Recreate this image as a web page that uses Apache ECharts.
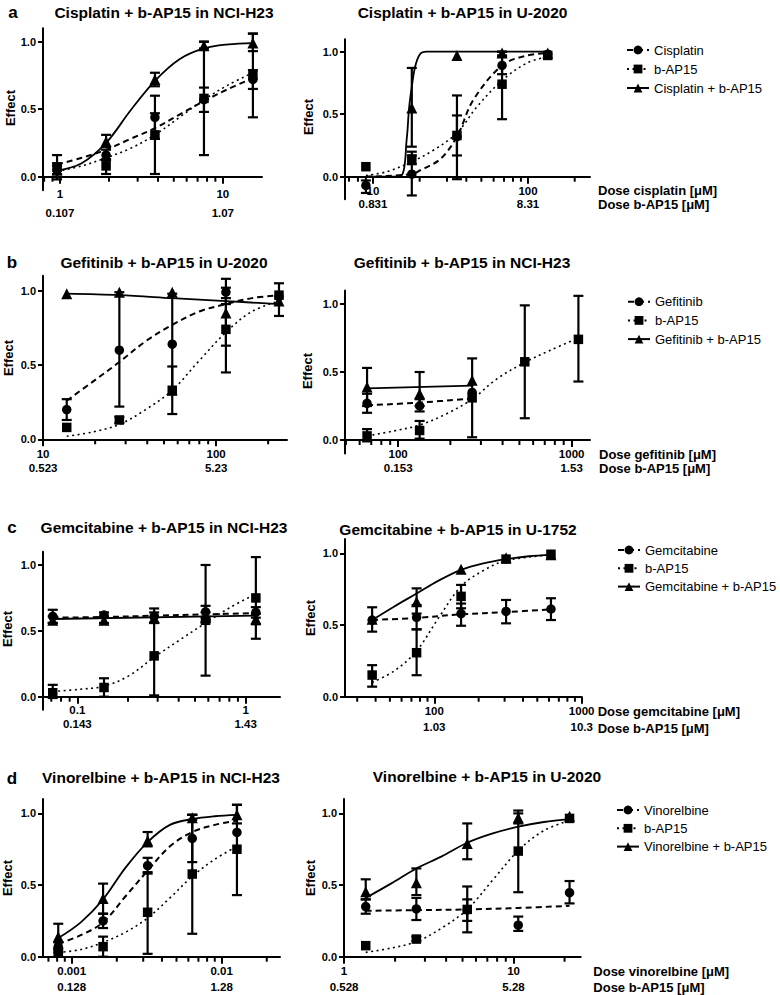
<!DOCTYPE html>
<html><head><meta charset="utf-8">
<script src="https://cdn.jsdelivr.net/npm/echarts@6/dist/echarts.min.js"></script>
<style>html,body{margin:0;padding:0;background:#fff}#chart{width:780px;height:995px}</style>
</head><body><div id="chart"></div>
<script>
// ================= DATA =================
const yTickValues = [0, 0.5, 1];
const yTickLabels = ['0.0', '0.5', '1.0'];

// a (left): Cisplatin + b-AP15 in NCI-H23
const aL_dose = [0.96, 1.92, 3.83, 7.66, 15.3];
const aL_drug = [0.05, 0.16, 0.44, 0.57, 0.72];
const aL_drugErr = [[0.00, 0.10], [0.12, 0.20], [0.28, 0.60], [0.48, 0.66], [0.65, 0.79]];
const aL_bap = [0.07, 0.08, 0.31, 0.58, 0.75];
const aL_bapErr = [[-0.02, 0.16], [0.02, 0.13], [0.02, 0.47], [0.16, 1.00], [0.44, 1.06]];
const aL_combo = [0.05, 0.26, 0.72, 0.97, 0.99];
const aL_comboErr = [[0.02, 0.08], [0.22, 0.31], [0.67, 0.77], [0.95, 1.00], [0.93, 1.06]];
const aL_drugCurve = [[0.96,0.09],[1.36,0.14],[1.92,0.20],[2.71,0.28],[3.83,0.36],[5.42,0.46],[7.66,0.56],[10.8,0.65],[15.3,0.73]];
const aL_bapCurve = [[0.96,0.04],[1.36,0.08],[1.92,0.14],[2.71,0.21],[3.83,0.31],[5.42,0.44],[7.66,0.57],[10.8,0.68],[15.3,0.77]];
const aL_comboCurve = [[0.96,0.045],[1.36,0.10],[1.92,0.25],[2.71,0.49],[3.83,0.71],[5.42,0.87],[7.66,0.95],[10.8,0.98],[15.3,0.99]];
const aL_ticks = [1, 10];
const aL_tickLabels = ['1', '10'];
const aL_tickLabels2 = ['0.107', '1.07'];

// a (right): Cisplatin + b-AP15 in U-2020
const aR_dose = [9.0, 17.8, 34.8, 68, 134];
const aR_drug = [-0.07, 0.02, 0.32, 0.89, 0.98];
const aR_drugErr = [[-0.13, -0.03], [-0.15, 0.20], [0.17, 0.49], [0.82, 0.96], null];
const aR_bap = [0.08, 0.14, 0.33, 0.74, 0.97];
const aR_bapErr = [null, [0.10, 0.17], [-0.02, 0.65], [0.46, 1.00], null];
const aR_combo = [null, 0.55, 0.97, 0.99, 0.99];
const aR_comboErr = [null, [0.24, 0.87], null, [0.97, 1.00], null];
const aR_drugCurve = [[9.0,0.0],[17.8,0.02],[20.1,0.05],[27.1,0.14],[34.8,0.32],[44.2,0.61],[68,0.89],[98.6,0.97],[134,0.99]];
const aR_bapCurve = [[9.0,0.01],[12.3,0.04],[17.8,0.12],[24.4,0.21],[34.8,0.35],[46.9,0.56],[68,0.77],[98.6,0.91],[134,0.96]];
const aR_comboCurve = [[9.0,0.0],[13,0.0],[15.3,0.01],[16.5,0.30],[17.1,0.55],[17.8,0.72],[18.7,0.88],[20.1,0.98],[22.2,1.0],[134,1.0]];
const aR_ticks = [10, 100];
const aR_tickLabels = ['10', '100'];
const aR_tickLabels2 = ['0.831', '8.31'];

// b (left): Gefitinib + b-AP15 in U-2020
const bL_dose = [13.7, 27.6, 55.8, 114, 231];
const bL_drug = [0.20, 0.60, 0.64, 0.99, 0.96];
const bL_drugErr = [[0.13, 0.27], [0.22, 0.99], [0.30, 0.98], [0.91, 1.08], null];
const bL_bap = [0.08, 0.13, 0.33, 0.74, 0.97];
const bL_bapErr = [null, [0.11, 0.15], [0.17, 0.49], [0.45, 1.02], [0.83, 1.05]];
const bL_combo = [0.98, 0.99, 0.99, 0.85, 0.93];
const bL_comboErr = [null, null, null, [0.63, 0.95], null];
const bL_drugCurve = [[13.7,0.26],[19.5,0.39],[27.6,0.52],[39.2,0.66],[55.8,0.77],[80,0.86],[114,0.91],[161,0.95],[231,0.97]];
const bL_bapCurve = [[13.7,0.02],[19.5,0.05],[27.6,0.10],[39.2,0.20],[55.8,0.33],[80,0.53],[114,0.72],[161,0.86],[231,0.93]];
const bL_comboCurve = [[13.7,0.98],[27.6,0.97],[55.8,0.95],[114,0.93],[231,0.91]];
const bL_ticks = [10, 100];
const bL_tickLabels = ['10', '100'];
const bL_tickLabels2 = ['0.523', '5.23'];

// b (right): Gefitinib + b-AP15 in NCI-H23
const bR_dose = [66.2, 133, 267, 537, 1094];
const bR_drug = [0.27, 0.25, 0.35, null, null];
const bR_drugErr = [[0.20, 0.34], [0.21, 0.30], null, null, null];
const bR_bap = [0.03, 0.07, 0.31, 0.575, 0.74];
const bR_bapErr = [[-0.01, 0.08], [0.01, 0.14], [0.02, 0.60], [0.16, 0.99], [0.43, 1.06]];
const bR_combo = [0.39, 0.34, 0.44, null, null];
const bR_comboErr = [[0.25, 0.53], [0.25, 0.50], null, null, null];
const bR_drugCurve = [[66.2,0.255],[133,0.275],[267,0.305]];
const bR_bapCurve = [[66.2,0.03],[93,0.065],[133,0.11],[188,0.19],[267,0.30],[371,0.45],[537,0.57],[753,0.66],[1094,0.75]];
const bR_comboCurve = [[66.2,0.38],[267,0.40]];
const bR_ticks = [100, 1000];
const bR_tickLabels = ['100', '1000'];
const bR_tickLabels2 = ['0.153', '1.53'];

// c (left): Gemcitabine + b-AP15 in NCI-H23
const cL_dose = [0.0714, 0.144, 0.286, 0.578, 1.15];
const cL_drug = [0.61, 0.62, 0.61, 0.645, 0.64];
const cL_drugErr = [[0.56, 0.66], [0.60, 0.64], [0.56, 0.67], [0.60, 0.69], [0.60, 0.68]];
const cL_bap = [0.03, 0.07, 0.31, 0.58, 0.75];
const cL_bapErr = [[-0.01, 0.09], [0.00, 0.14], [0.01, 0.56], [0.16, 1.00], [0.44, 1.06]];
const cL_combo = [0.58, 0.58, 0.60, 0.60, 0.59];
const cL_comboErr = [[0.56, 0.61], [0.56, 0.61], [0.56, 0.64], [0.57, 0.64], [0.55, 0.63]];
const cL_drugCurve = [[0.0714,0.60],[0.144,0.605],[0.286,0.615],[0.578,0.625],[1.15,0.635]];
const cL_bapCurve = [[0.0714,0.04],[0.101,0.055],[0.144,0.08],[0.203,0.16],[0.286,0.30],[0.405,0.43],[0.578,0.56],[0.815,0.68],[1.15,0.78]];
const cL_comboCurve = [[0.0714,0.59],[1.15,0.615]];
const cL_ticks = [0.1, 1];
const cL_tickLabels = ['0.1', '1'];
const cL_tickLabels2 = ['0.143', '1.43'];

// c (right): Gemcitabine + b-AP15 in U-1752
const cR_dose = [37.9, 75.9, 152, 307, 619];
const cR_drug = [0.535, 0.554, 0.58, 0.595, 0.612];
const cR_drugErr = [[0.454, 0.624], [0.47, 0.64], [0.495, 0.65], [0.512, 0.675], [0.535, 0.687]];
const cR_bap = [0.151, 0.307, 0.70, 0.96, 0.994];
const cR_bapErr = [[0.07, 0.22], [0.15, 0.47], [0.617, 0.78], null, null];
const cR_combo = [0.54, 0.663, 0.889, 0.97, 0.99];
const cR_comboErr = [null, [0.58, 0.756], null, null, null];
const cR_drugCurve = [[37.9,0.535],[75.9,0.55],[152,0.575],[307,0.59],[619,0.61]];
const cR_bapCurve = [[37.9,0.10],[53.6,0.18],[75.9,0.32],[107,0.55],[152,0.77],[215,0.88],[307,0.95],[619,0.99]];
const cR_comboCurve = [[37.9,0.535],[53.6,0.63],[75.9,0.72],[107,0.81],[152,0.885],[215,0.93],[307,0.96],[437,0.98],[619,0.99]];
const cR_ticks = [100, 1000];
const cR_tickLabels = ['100', '1000'];
const cR_tickLabels2 = ['1.03', '10.3'];

// d (left): Vinorelbine + b-AP15 in NCI-H23
const dL_dose = [0.000814, 0.00162, 0.00321, 0.00637, 0.01265];
const dL_drug = [0.07, 0.25, 0.635, 0.825, 0.867];
const dL_drugErr = [[0.03, 0.10], [0.20, 0.30], [0.58, 0.69], [0.66, 0.99], null];
const dL_bap = [0.03, 0.07, 0.31, 0.577, 0.75];
const dL_bapErr = [[0.00, 0.06], [0.00, 0.14], [0.02, 0.59], [0.16, 0.99], [0.43, 1.06]];
const dL_combo = [0.14, 0.407, 0.81, 0.97, 0.99];
const dL_comboErr = [[0.05, 0.23], [0.30, 0.51], [0.77, 0.87], [0.955, 0.99], [0.93, 1.06]];
const dL_drugCurve = [[0.000814,0.09],[0.00115,0.15],[0.00162,0.24],[0.00228,0.42],[0.00321,0.60],[0.00452,0.77],[0.00637,0.87],[0.009,0.92],[0.01265,0.95]];
const dL_bapCurve = [[0.000814,0.03],[0.00115,0.05],[0.00162,0.10],[0.00228,0.17],[0.00321,0.27],[0.00452,0.41],[0.00637,0.56],[0.009,0.68],[0.01265,0.77]];
const dL_comboCurve = [[0.000814,0.13],[0.00115,0.24],[0.00162,0.40],[0.00228,0.62],[0.00321,0.80],[0.00452,0.92],[0.00637,0.96],[0.009,0.98],[0.01265,0.99]];
const dL_ticks = [0.001, 0.01];
const dL_tickLabels = ['0.001', '0.01'];
const dL_tickLabels2 = ['0.128', '1.28'];

// d (right): Vinorelbine + b-AP15 in U-2020
const dR_dose = [1.342, 2.67, 5.33, 10.66, 21.4];
const dR_drug = [0.35, 0.333, 0.326, 0.22, 0.447];
const dR_drugErr = [[0.30, 0.40], [0.256, 0.41], [0.25, 0.40], [0.18, 0.28], [0.372, 0.528]];
const dR_bap = [0.077, 0.123, 0.33, 0.737, 0.965];
const dR_bapErr = [null, [0.11, 0.14], [0.17, 0.49], [0.45, 1.00], null];
const dR_combo = [0.453, 0.516, 0.79, 0.97, 0.98];
const dR_comboErr = [[0.40, 0.54], [0.43, 0.616], [0.68, 0.93], [0.93, 1.02], null];
const dR_drugCurve = [[1.342,0.32],[2.67,0.325],[5.33,0.33],[10.66,0.34],[21.4,0.355]];
const dR_bapCurve = [[1.342,0.03],[1.89,0.06],[2.67,0.105],[3.77,0.20],[5.33,0.33],[7.54,0.535],[10.66,0.74],[15.1,0.88],[21.4,0.95]];
const dR_comboCurve = [[1.342,0.41],[1.89,0.51],[2.67,0.616],[3.77,0.70],[5.33,0.795],[7.54,0.86],[10.66,0.907],[15.1,0.94],[21.4,0.96]];
const dR_ticks = [1, 10];
const dR_tickLabels = ['1', '10'];
const dR_tickLabels2 = ['0.528', '5.28'];

const drugNames = ['Cisplatin', 'Gefitinib', 'Gemcitabine', 'Vinorelbine'];
const drugNamesLower = ['cisplatin', 'gefitinib', 'gemcitabine', 'vinorelbine'];
const panelTitles = ['Cisplatin + b-AP15 in NCI-H23', 'Cisplatin + b-AP15 in U-2020',
  'Gefitinib + b-AP15 in U-2020', 'Gefitinib + b-AP15 in NCI-H23',
  'Gemcitabine + b-AP15 in NCI-H23', 'Gemcitabine + b-AP15 in U-1752',
  'Vinorelbine + b-AP15 in NCI-H23', 'Vinorelbine + b-AP15 in U-2020'];
const rowLetters = ['a', 'b', 'c', 'd'];

// ================= LAYOUT =================
const FONT = "'Liberation Sans', Arial, Helvetica, sans-serif";
const panels = [
  {row:0, dose:aL_dose, drug:aL_drug, drugErr:aL_drugErr, bap:aL_bap, bapErr:aL_bapErr, combo:aL_combo, comboErr:aL_comboErr,
   drugCurve:aL_drugCurve, bapCurve:aL_bapCurve, comboCurve:aL_comboCurve, ticks:aL_ticks, tl1:aL_tickLabels, tl2:aL_tickLabels2,
   lay:{left:43, width:219, y0:176.7, unit:135, yMin:-0.1, yMax:1.1, xMin:0.787, xMax:17.4, lm:7.5, lh:19}},
  {row:0, dose:aR_dose, drug:aR_drug, drugErr:aR_drugErr, bap:aR_bap, bapErr:aR_bapErr, combo:aR_combo, comboErr:aR_comboErr,
   drugCurve:aR_drugCurve, bapCurve:aR_bapCurve, comboCurve:aR_comboCurve, ticks:aR_ticks, tl1:aR_tickLabels, tl2:aR_tickLabels2,
   lay:{left:345, width:245, y0:176.7, unit:125, yMin:-0.18, yMax:1.1, xMin:6.6, xMax:251, lm:7.2, lh:13.5}},
  {row:1, dose:bL_dose, drug:bL_drug, drugErr:bL_drugErr, bap:bL_bap, bapErr:bL_bapErr, combo:bL_combo, comboErr:bL_comboErr,
   drugCurve:bL_drugCurve, bapCurve:bL_bapCurve, comboCurve:bL_comboCurve, ticks:bL_ticks, tl1:bL_tickLabels, tl2:bL_tickLabels2,
   lay:{left:43, width:244, y0:439.3, unit:148.6, yMin:0, yMax:1.1, xMin:9.99, xMax:257, lm:7.3, lh:14}},
  {row:1, dose:bR_dose, drug:bR_drug, drugErr:bR_drugErr, bap:bR_bap, bapErr:bR_bapErr, combo:bR_combo, comboErr:bR_comboErr,
   drugCurve:bR_drugCurve, bapCurve:bR_bapCurve, comboCurve:bR_comboCurve, ticks:bR_ticks, tl1:bR_tickLabels, tl2:bR_tickLabels2,
   lay:{left:345, width:245, y0:440, unit:136, yMin:-0.1, yMax:1.1, xMin:49.4, xMax:1276, lm:7.3, lh:14}},
  {row:2, dose:cL_dose, drug:cL_drug, drugErr:cL_drugErr, bap:cL_bap, bapErr:cL_bapErr, combo:cL_combo, comboErr:cL_comboErr,
   drugCurve:cL_drugCurve, bapCurve:cL_bapCurve, comboCurve:cL_comboCurve, ticks:cL_ticks, tl1:cL_tickLabels, tl2:cL_tickLabels2,
   lay:{left:43, width:237, y0:696.7, unit:131.7, yMin:-0.1, yMax:1.1, xMin:0.0625, xMax:1.6, lm:6.3, lh:14}},
  {row:2, dose:cR_dose, drug:cR_drug, drugErr:cR_drugErr, bap:cR_bap, bapErr:cR_bapErr, combo:cR_combo, comboErr:cR_comboErr,
   drugCurve:cR_drugCurve, bapCurve:cR_bapCurve, comboCurve:cR_comboCurve, ticks:cR_ticks, tl1:cR_tickLabels, tl2:cR_tickLabels2,
   lay:{left:345, width:236.7, y0:696.7, unit:143.3, yMin:0, yMax:1.1, xMin:24.8, xMax:1000.5, lm:5.6, lh:16.7}},
  {row:3, dose:dL_dose, drug:dL_drug, drugErr:dL_drugErr, bap:dL_bap, bapErr:dL_bapErr, combo:dL_combo, comboErr:dL_comboErr,
   drugCurve:dL_drugCurve, bapCurve:dL_bapCurve, comboCurve:dL_comboCurve, ticks:dL_ticks, tl1:dL_tickLabels, tl2:dL_tickLabels2,
   lay:{left:43, width:237, y0:956.7, unit:143.3, yMin:0, yMax:1.1, xMin:0.000644, xMax:0.0245, lm:5.6, lh:16.7}},
  {row:3, dose:dR_dose, drug:dR_drug, drugErr:dR_drugErr, bap:dR_bap, bapErr:dR_bapErr, combo:dR_combo, comboErr:dR_comboErr,
   drugCurve:dR_drugCurve, bapCurve:dR_bapCurve, comboCurve:dR_comboCurve, ticks:dR_ticks, tl1:dR_tickLabels, tl2:dR_tickLabels2,
   lay:{left:344, width:236.7, y0:956.7, unit:143.3, yMin:0, yMax:1.1, xMin:0.999, xMax:24.9, lm:5.6, lh:16.7}}
];
const titlePos = [[164,12],[462.5,12],[164,262],[462,262.5],[164,527],[458,529],[161,777.5],[487,776]];
const letterPos = [[13,12],[12,262],[12,527],[12,778]];
const effectPos = [[10,108],[308,117],[8.5,358],[307,371],[7.5,629],[310,618],[7.5,878],[310,878]];
const axisTitlePos = [[598,190,204],[599,454.3,468.3],[597.7,711.7,728.3],[593.3,971.7,987.3]];
const legendPos = [[626,42,3],[627,293.7,2.7],[617,542,2.3],[616,802,2.3]];

const STY = {
  drug:  {symbol:'circle',   size:9.5, dash:[6,4],   width:2},
  bap:   {symbol:'rect',     size:9.5, dash:[2,3.5], width:1.6},
  combo: {symbol:'triangle', size:11,  dash:'solid', width:1.8}
};

function minorTicks(mn, mx) {
  const out = [];
  for (let n = Math.floor(Math.log10(mn)); n <= Math.ceil(Math.log10(mx)); n++) {
    for (let k = 2; k <= 9; k++) {
      const v = Number((k * Math.pow(10, n)).toPrecision(6));
      if (v > mn && v < mx) out.push([v, 0]);
    }
  }
  return out;
}
function findIdx(arr, v) {
  for (let i = 0; i < arr.length; i++) if (Math.abs(arr[i] - v) / arr[i] < 1e-6) return i;
  return -1;
}
function errRender(params, api) {
  const x = api.value(0), lo = api.value(1), hi = api.value(2);
  const a = api.coord([x, lo]), b = api.coord([x, hi]);
  const w = 5;
  const st = {stroke:'#000', lineWidth:2.2, fill:null};
  return {type:'group', children:[
    {type:'line', shape:{x1:a[0], y1:a[1], x2:b[0], y2:b[1]}, style:st},
    {type:'line', shape:{x1:a[0]-w, y1:a[1], x2:a[0]+w, y2:a[1]}, style:st},
    {type:'line', shape:{x1:b[0]-w, y1:b[1], x2:b[0]+w, y2:b[1]}, style:st}
  ]};
}
function minorTickRender(params, api) {
  const c = api.coord([api.value(0), api.value(1)]);
  return {type:'group', children:[
    {type:'line', shape:{x1:c[0], y1:c[1], x2:c[0], y2:c[1] + 5}, style:{stroke:'#000', lineWidth:2, fill:null}}
  ]};
}

const grid = [], xAxis = [], yAxis = [], series = [], graphic = [], legend = [];
panels.forEach((p, i) => {
  const L = p.lay;
  const top = L.y0 - L.yMax * L.unit, height = (L.yMax - L.yMin) * L.unit;
  const belowZero = -L.yMin * L.unit; // labels are laid out from grid bottom
  grid.push({left:L.left, top:top, width:L.width, height:height, containLabel:false, outerBoundsMode:'none'});
  yAxis.push({type:'value', gridIndex:i, min:L.yMin, max:L.yMax, position:'left',
    axisLine:{show:true, onZero:false, lineStyle:{color:'#000', width:2}},
    axisTick:{show:true, customValues:yTickValues, length:5, lineStyle:{color:'#000', width:2}},
    axisLabel:{show:true, customValues:yTickValues, formatter:(v) => { const k = yTickValues.indexOf(Math.round(v*10)/10); return k < 0 ? '' : yTickLabels[k]; },
      color:'#000', fontSize:11, fontWeight:'bold', fontFamily:FONT, margin:7},
    splitLine:{show:false}});
  xAxis.push({type:'log', logBase:10, gridIndex:i, min:L.xMin, max:L.xMax, position:'bottom',
    axisLine:{show:true, onZero:true, onZeroAxisIndex:i, lineStyle:{color:'#000', width:2}},
    axisTick:{show:true, customValues:p.ticks, length:7, lineStyle:{color:'#000', width:2}},
    axisLabel:{show:true, customValues:p.ticks, formatter:(v) => { const k = findIdx(p.ticks, v); return k < 0 ? '' : p.tl1[k] + '\n' + p.tl2[k]; },
      color:'#000', fontSize:11.5, fontWeight:'bold', fontFamily:FONT, margin:L.lm - belowZero, lineHeight:L.lh},
    splitLine:{show:false}});

  // minor ticks of the log axis (2..9 × 10^n), positioned through the axis scale
  series.push({type:'custom', name:'minor ticks ' + i, xAxisIndex:i, yAxisIndex:i, renderItem:minorTickRender,
    data:minorTicks(L.xMin, L.xMax), encode:{x:0, y:1}, silent:true, animation:false, z:5, clip:false});

  const dn = drugNames[p.row];
  const groups = [
    {key:'drug', name:dn, mean:p.drug, err:p.drugErr, curve:p.drugCurve},
    {key:'bap', name:'b-AP15', mean:p.bap, err:p.bapErr, curve:p.bapCurve},
    {key:'combo', name:dn + ' + b-AP15', mean:p.combo, err:p.comboErr, curve:p.comboCurve}
  ];
  groups.forEach(g => {
    const s = STY[g.key];
    series.push({type:'line', name:g.name, xAxisIndex:i, yAxisIndex:i, data:g.curve,
      showSymbol:false, symbol:s.symbol, symbolSize:s.size, smooth:0.35,
      lineStyle:{color:'#000', width:s.width, type:s.dash}, itemStyle:{color:'#000'},
      silent:true, animation:false, z:2});
  });
  groups.forEach(g => {
    series.push({type:'custom', name:g.name + ' SD', xAxisIndex:i, yAxisIndex:i, renderItem:errRender,
      data:p.dose.map((d, k) => g.err[k] ? [d, g.err[k][0], g.err[k][1]] : null).filter(Boolean),
      encode:{x:0, y:[1, 2]}, silent:true, animation:false, z:3, clip:false});
  });
  groups.forEach(g => {
    const s = STY[g.key];
    series.push({type:'scatter', name:g.name + ' mean', xAxisIndex:i, yAxisIndex:i,
      data:p.dose.map((d, k) => g.mean[k] == null ? null : [d, g.mean[k]]).filter(Boolean),
      symbol:s.symbol, symbolSize:s.size, itemStyle:{color:'#000', opacity:1},
      silent:true, animation:false, z:4});
  });

  graphic.push({type:'text', x:titlePos[i][0], y:titlePos[i][1],
    style:{text:panelTitles[i], fill:'#000', fontSize:15.5, fontWeight:'bold', fontFamily:FONT, align:'center', verticalAlign:'middle'}});
  graphic.push({type:'text', x:effectPos[i][0], y:effectPos[i][1], rotation:Math.PI/2,
    style:{text:'Effect', fill:'#000', fontSize:13, fontWeight:'bold', fontFamily:FONT, align:'center', verticalAlign:'middle'}});
});

rowLetters.forEach((l, r) => {
  graphic.push({type:'text', x:letterPos[r][0], y:letterPos[r][1],
    style:{text:l, fill:'#000', fontSize:17, fontWeight:'bold', fontFamily:FONT, align:'center', verticalAlign:'middle'}});
  const ap = axisTitlePos[r];
  graphic.push({type:'text', x:ap[0], y:ap[1],
    style:{text:'Dose ' + drugNamesLower[r] + ' [μM]', fill:'#000', fontSize:13, fontWeight:'bold', fontFamily:FONT, align:'left', verticalAlign:'middle'}});
  graphic.push({type:'text', x:ap[0], y:ap[2],
    style:{text:'Dose b-AP15 [μM]', fill:'#000', fontSize:13, fontWeight:'bold', fontFamily:FONT, align:'left', verticalAlign:'middle'}});
  const lp = legendPos[r];
  legend.push({orient:'vertical', left:lp[0], top:lp[1], padding:0, itemGap:lp[2], itemWidth:22, itemHeight:11,
    selectedMode:false, data:[drugNames[r], 'b-AP15', drugNames[r] + ' + b-AP15'],
    textStyle:{fontSize:13, color:'#000', fontFamily:FONT, lineHeight:16}});
});

const chart = echarts.init(document.getElementById('chart'), null, {renderer:'svg', width:780, height:995});
chart.setOption({
  backgroundColor:'#fff', animation:false,
  textStyle:{fontFamily:FONT},
  grid:grid, xAxis:xAxis, yAxis:yAxis, series:series, legend:legend, graphic:graphic
});
</script>
</body></html>
